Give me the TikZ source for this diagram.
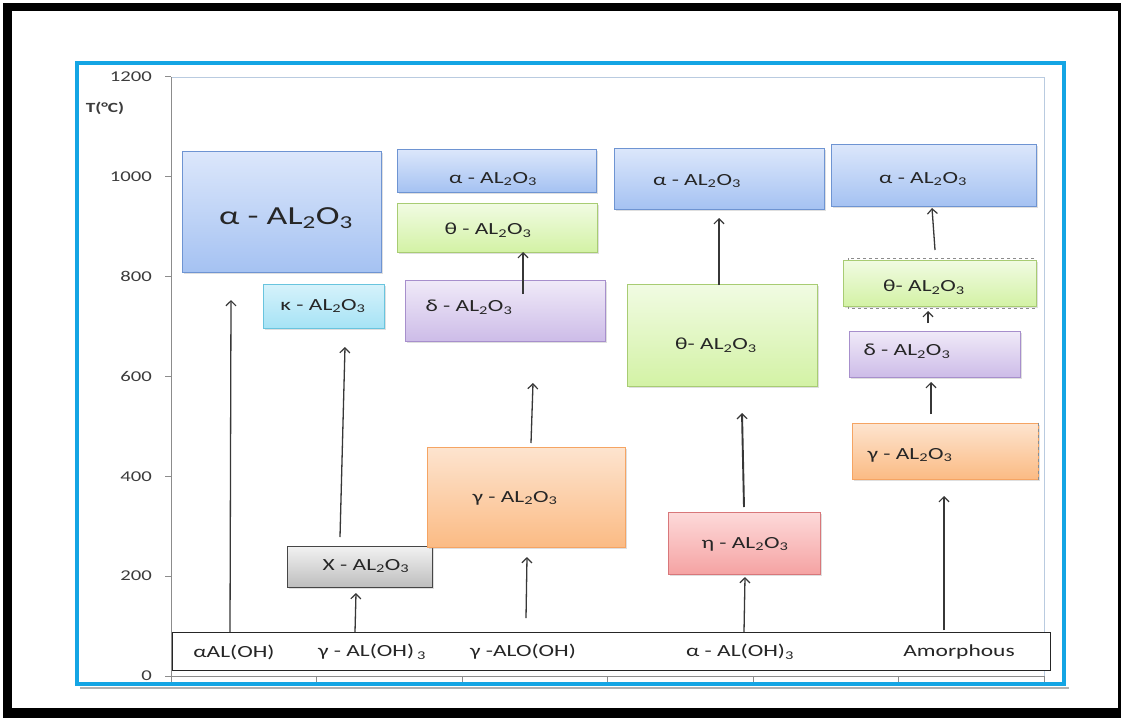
\documentclass[tikz,border=0pt]{standalone}
\usepackage{fontspec}
\setmainfont{Carlito}
\newfontfamily\stf{Carlito}[FakeStretch=1.38]
\usetikzlibrary{arrows.meta,shadows,fit}
\definecolor{frameblue}{RGB}{20,165,228}
\definecolor{plotedge}{RGB}{185,203,224}
\definecolor{axisgray}{RGB}{140,140,140}
\definecolor{txtgray}{RGB}{60,60,60}
\definecolor{arrgray}{RGB}{55,55,55}
\definecolor{bluetop}{RGB}{220,231,251}\definecolor{bluebot}{RGB}{165,194,242}\definecolor{blueedge}{RGB}{110,148,210}
\definecolor{cyantop}{RGB}{214,242,251}\definecolor{cyanbot}{RGB}{166,227,245}\definecolor{cyanedge}{RGB}{105,196,222}
\definecolor{graytop}{RGB}{242,242,242}\definecolor{graybot}{RGB}{190,190,190}\definecolor{grayedge}{RGB}{70,70,70}
\definecolor{greentop}{RGB}{241,251,227}\definecolor{greenbot}{RGB}{211,242,165}\definecolor{greenedge}{RGB}{168,204,115}
\definecolor{purptop}{RGB}{240,234,248}\definecolor{purpbot}{RGB}{205,188,232}\definecolor{purpedge}{RGB}{167,143,204}
\definecolor{orangetop}{RGB}{253,228,207}\definecolor{orangebot}{RGB}{251,187,132}\definecolor{orangeedge}{RGB}{245,164,99}
\definecolor{redtop}{RGB}{253,218,218}\definecolor{redbot}{RGB}{245,163,163}\definecolor{rededge}{RGB}{216,119,122}
\begin{document}
\begin{tikzpicture}[x=1pt,y=-1pt,
  pbox/.style={inner sep=0pt, line width=1pt, drop shadow={opacity=0.25,shadow xshift=1.5pt,shadow yshift=-1.5pt}},
  bluebox/.style={pbox, draw=blueedge, top color=bluetop, bottom color=bluebot},
  cyanbox/.style={pbox, draw=cyanedge, top color=cyantop, bottom color=cyanbot},
  graybox/.style={pbox, draw=grayedge, top color=graytop, bottom color=graybot},
  greenbox/.style={pbox, draw=greenedge, top color=greentop, bottom color=greenbot},
  purpbox/.style={pbox, draw=purpedge, top color=purptop, bottom color=purpbot},
  orangebox/.style={pbox, draw=orangeedge, top color=orangetop, bottom color=orangebot},
  redbox/.style={pbox, draw=rededge, top color=redtop, bottom color=redbot},
  lbl/.style={inner sep=0pt, text=black!85, font=\stf\fontsize{17}{20}\selectfont},
  biglbl/.style={inner sep=0pt, text=black!85, font=\stf\fontsize{26}{30}\selectfont},
  ticklbl/.style={inner sep=0pt, anchor=east, text=txtgray, font=\stf\fontsize{15}{18}\selectfont},
  arr/.style={draw=arrgray, line width=1.3pt, -{Straight Barb[length=5pt,width=10pt,line width=1.2pt]}},
  arrthick/.style={arr, line width=1.9pt}
]
\useasboundingbox (0,0) rectangle (1121,718);
% outer frame
\fill[black] (3,3) rectangle (1121,718);
\fill[white] (12,11) rectangle (1118,708);
% shadow + blue frame
\draw[black!30, line width=1.2pt] (80,688) -- (1069,688);
\draw[frameblue, line width=4pt] (77,63) rectangle (1064,684);
% plot area
\draw[plotedge, line width=1pt] (171,77) rectangle (1044,676);
\draw[axisgray, line width=1pt] (171,77) -- (171,676);
\draw[axisgray, line width=1pt] (171,676) -- (1044,676);
\foreach \v in {0,200,...,1200}{
  \draw[axisgray, line width=1pt] (165,{676-\v*0.49917}) -- (171,{676-\v*0.49917});
  \node[ticklbl] (yl\v) at (152,{676-\v*0.49917}) {\v};
}
\foreach \i in {0,...,6}{
  \draw[axisgray, line width=1pt] ({171+145.5*\i},676) -- ({171+145.5*\i},682);
}
\node[inner sep=0pt, text=txtgray, font=\stf\bfseries\fontsize{14}{16}\selectfont] (tlab) at (105,108) {T(°C)};
% boxes
\node[bluebox, fit={(182,151) (381,272)}] (aA) {};
\node[cyanbox, fit={(263,284) (384,328)}] (kap) {};
\node[graybox, fit={(287,546) (432,587)}] (chi) {};
\node[bluebox, fit={(397,149) (596,192)}] (a3) {};
\node[greenbox, fit={(397,203) (597,252)}] (t3) {};
\node[purpbox, fit={(405,280) (605,341)}] (d3) {};
\node[orangebox, fit={(427,447) (625,547)}] (g3) {};
\node[bluebox, fit={(614,148) (824,209)}] (a4) {};
\node[greenbox, fit={(627,284) (817,386)}] (t4) {};
\node[redbox, fit={(668,512) (820,574)}] (eta) {};
\node[bluebox, fit={(831,144) (1036,206)}] (a5) {};
\draw[black!45, dashed, line width=1pt] (848,258) rectangle (1035,308);
\node[greenbox, fit={(843,260) (1036,306)}] (t5) {};
\node[purpbox, fit={(849,331) (1020,377)}] (d5) {};
\node[orangebox, fit={(852,423) (1038,479)}] (g5) {};
\draw[black!45, dashed, line width=1pt] (g5.north east) -- (g5.south east);
\node[draw=black!85, fill=white, line width=1pt, inner sep=0pt, fit={(172,632) (1050,670)}] (bot) {};
% box labels
\node[biglbl] (aAt) at (286,218) {α - AL\textsubscript{2}O\textsubscript{3}};
\node[lbl] (kapt) at (323,306) {κ - AL\textsubscript{2}O\textsubscript{3}};
\node[lbl] (chit) at (366,566) {X - AL\textsubscript{2}O\textsubscript{3}};
\node[lbl] (a3t) at (493,179) {α - AL\textsubscript{2}O\textsubscript{3}};
\node[lbl] (t3t) at (488,230) {θ - AL\textsubscript{2}O\textsubscript{3}};
\node[lbl] (d3t) at (469,307) {δ - AL\textsubscript{2}O\textsubscript{3}};
\node[lbl] (g3t) at (515,498) {γ - AL\textsubscript{2}O\textsubscript{3}};
\node[lbl] (a4t) at (697,181) {α - AL\textsubscript{2}O\textsubscript{3}};
\node[lbl] (t4t) at (716,345) {θ- AL\textsubscript{2}O\textsubscript{3}};
\node[lbl] (etat) at (745,544) {η - AL\textsubscript{2}O\textsubscript{3}};
\node[lbl] (a5t) at (923,179) {α - AL\textsubscript{2}O\textsubscript{3}};
\node[lbl] (t5t) at (924,287) {θ- AL\textsubscript{2}O\textsubscript{3}};
\node[lbl] (d5t) at (907,351) {δ - AL\textsubscript{2}O\textsubscript{3}};
\node[lbl] (g5t) at (910,455) {γ - AL\textsubscript{2}O\textsubscript{3}};
% bottom labels
\node[lbl] (s1) at (234,652) {αAL(OH)};
\node[lbl] (s2) at (372,652) {γ - AL(OH)\,\textsubscript{3}};
\node[lbl] (s3) at (523,652) {γ -ALO(OH)};
\node[lbl] (s4) at (740,652) {α - AL(OH)\textsubscript{3}};
\node[lbl] (s5) at (959,652) {Amorphous};
% arrow end points
\coordinate (p1) at (230,632);  \coordinate (q1) at (231,300);
\coordinate (p2) at (340,537);  \coordinate (q2) at (345,347);
\coordinate (p3) at (355,632);  \coordinate (q3) at (356,593);
\coordinate (p4) at (526,618);  \coordinate (q4) at (527,557);
\coordinate (p5) at (531,443);  \coordinate (q5) at (533,383);
\coordinate (p6) at (523,294);  \coordinate (q6) at (523,252);
\coordinate (p7) at (744,632);  \coordinate (q7) at (745,577);
\coordinate (p8) at (744,507);  \coordinate (q8) at (742,413);
\coordinate (p9) at (719,285);  \coordinate (q9) at (719,218);
\coordinate (p10) at (944,630); \coordinate (q10) at (944,496);
\coordinate (p11) at (931,414); \coordinate (q11) at (931,382);
\coordinate (p12) at (928,323); \coordinate (q12) at (928,311);
\coordinate (p13) at (935,250); \coordinate (q13) at (932,208);
\draw[arr] (p1) -- (q1);
\draw[arr] (p2) -- (q2);
\draw[arr] (p3) -- (q3);
\draw[arr] (p4) -- (q4);
\draw[arr] (p5) -- (q5);
\draw[arr] (p6) -- (q6);
\draw[arr] (p7) -- (q7);
\draw[arrthick] (p8) -- (q8);
\draw[arr] (p9) -- (q9);
\draw[arr] (p10) -- (q10);
\draw[arr] (p11) -- (q11);
\draw[arr] (p12) -- (q12);
\draw[arr] (p13) -- (q13);
\end{tikzpicture}
\end{document}
